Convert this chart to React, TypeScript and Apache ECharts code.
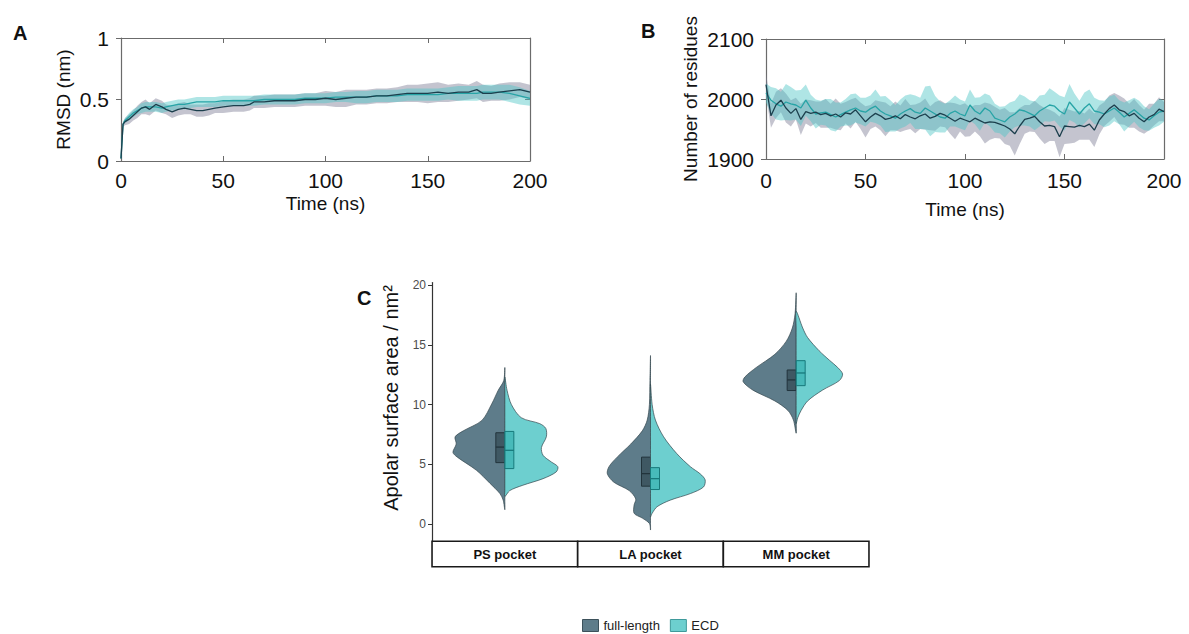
import React, { useEffect, useRef } from "react";
import * as echarts from "echarts";

const FONT = "'Liberation Sans', Arial, Helvetica, sans-serif";

// ---- Panel A: RMSD (nm) over simulation time (ns) ----
const timeA = [
  0, 1, 2, 4, 6, 8, 10, 12, 14, 17, 20, 22, 25, 28, 31, 34, 37, 40, 43, 46, 50, 55, 60, 63, 65, 70,
  75, 80, 85, 90, 95, 100, 105, 110, 115, 120, 125, 130, 135, 140, 145, 150, 155, 160, 165, 170,
  174, 177, 181, 185, 190, 195, 200,
];
const rmsdFull = [
  0.02, 0.3, 0.32, 0.34, 0.37, 0.4, 0.43, 0.44, 0.42, 0.46, 0.44, 0.42, 0.4, 0.42, 0.43, 0.42,
  0.41, 0.41, 0.42, 0.43, 0.44, 0.45, 0.45, 0.46, 0.48, 0.48, 0.49, 0.49, 0.49, 0.5, 0.5, 0.51,
  0.5, 0.51, 0.52, 0.52, 0.53, 0.53, 0.54, 0.55, 0.55, 0.55, 0.56, 0.55, 0.56, 0.56, 0.58, 0.55,
  0.55, 0.56, 0.57, 0.58, 0.56,
];
const rmsdFullSd = [
  0.01, 0.02, 0.03, 0.04, 0.04, 0.05, 0.05, 0.06, 0.05, 0.05, 0.05, 0.04, 0.05, 0.05, 0.05, 0.04,
  0.05, 0.05, 0.05, 0.04, 0.05, 0.05, 0.05, 0.05, 0.05, 0.05, 0.05, 0.05, 0.05, 0.05, 0.05, 0.06,
  0.06, 0.07, 0.06, 0.06, 0.06, 0.06, 0.06, 0.07, 0.07, 0.08, 0.08, 0.07, 0.07, 0.06, 0.07, 0.07,
  0.06, 0.07, 0.07, 0.06, 0.06,
];
const rmsdEcd = [
  0.02, 0.3, 0.33, 0.36, 0.39, 0.41, 0.43, 0.44, 0.44, 0.44, 0.43, 0.44, 0.45, 0.46, 0.46, 0.47,
  0.48, 0.48, 0.48, 0.48, 0.49, 0.49, 0.49, 0.49, 0.49, 0.5, 0.5, 0.5, 0.5, 0.51, 0.51, 0.51,
  0.52, 0.52, 0.52, 0.52, 0.53, 0.53, 0.53, 0.54, 0.54, 0.54, 0.54, 0.55, 0.55, 0.55, 0.55, 0.56,
  0.56, 0.56, 0.55, 0.53, 0.51,
];
const rmsdEcdSd = [
  0.01, 0.02, 0.02, 0.03, 0.03, 0.03, 0.04, 0.04, 0.04, 0.04, 0.04, 0.04, 0.04, 0.04, 0.04, 0.04,
  0.04, 0.04, 0.04, 0.04, 0.04, 0.04, 0.04, 0.04, 0.04, 0.04, 0.04, 0.04, 0.04, 0.04, 0.04, 0.04,
  0.04, 0.04, 0.05, 0.05, 0.05, 0.05, 0.05, 0.05, 0.05, 0.05, 0.05, 0.05, 0.06, 0.06, 0.06, 0.06,
  0.06, 0.06, 0.07, 0.07, 0.06,
];

// ---- Panel B: number of residues, sampled every 2.5 ns ----
const stepB = 2.5;
const residuesFull = [
  2024, 1972, 1990, 1998, 1985, 1976, 1984, 1966, 1979, 1976,
  1978, 1974, 1976, 1972, 1975, 1970, 1977, 1975, 1982, 1972,
  1962, 1970, 1976, 1972, 1966, 1968, 1972, 1967, 1974, 1970,
  1967, 1972, 1975, 1968, 1971, 1976, 1973, 1968, 1963, 1968,
  1965, 1962, 1968, 1964, 1960, 1962, 1961, 1958, 1955, 1950,
  1942, 1955, 1966, 1968, 1971, 1962, 1955, 1956, 1954, 1937,
  1955, 1954, 1953, 1956, 1954, 1958, 1948, 1965, 1975, 1984,
  1990, 1982, 1979, 1972, 1976, 1968, 1962, 1970, 1974, 1983,
  1979,
];
const residuesFullSd = [
  18, 20, 22, 20, 24, 22, 18, 26, 20, 22,
  18, 22, 24, 20, 26, 22, 18, 24, 20, 22,
  26, 20, 22, 24, 28, 20, 24, 22, 26, 20,
  24, 22, 26, 20, 24, 22, 20, 26, 30, 22,
  28, 24, 22, 26, 34, 30, 26, 24, 30, 28,
  36, 30, 24, 22, 26, 28, 30, 26, 24, 34,
  30, 28, 26, 24, 22, 26, 28, 24, 20, 22,
  20, 24, 22, 20, 24, 22, 20, 22, 18, 20,
  16,
];
const residuesEcd = [
  2010, 1998, 1992, 1988, 1995, 1992, 1990, 1985, 1998, 1985,
  1975, 1977, 1978, 1974, 1970, 1974, 1978, 1982, 1985, 1980,
  1978, 1984, 1988, 1980, 1975, 1972, 1968, 1975, 1980, 1984,
  1978, 1976, 1985, 1980, 1975, 1970, 1968, 1976, 1980, 1975,
  1972, 1990, 1980, 1975, 1985, 1980, 1968, 1965, 1962, 1970,
  1975, 1982, 1980, 1976, 1972, 1980, 1985, 1990, 1988, 1980,
  1975, 1995, 1985, 1975, 1985, 1992, 1980, 1978, 1975, 1980,
  1985, 1978, 1970, 1976, 1982, 1975, 1968, 1965, 1972, 1978,
  1980,
];
const residuesEcdSd = [
  16, 22, 26, 24, 30, 28, 24, 30, 26, 22,
  24, 20, 22, 26, 24, 20, 22, 26, 24, 22,
  24, 22, 28, 24, 30, 26, 22, 24, 26, 24,
  28, 26, 36, 42, 30, 26, 24, 22, 26, 24,
  24, 26, 22, 28, 24, 26, 24, 22, 26, 24,
  22, 26, 24, 22, 24, 26, 22, 28, 24, 26,
  28, 30, 24, 22, 26, 24, 22, 20, 22, 24,
  22, 20, 24, 22, 20, 22, 20, 18, 20, 22,
  18,
];

// ---- Panel C: apolar surface area per pocket ----
const pockets = ["PS pocket", "LA pocket", "MM pocket"];
const tickValuesC = [0, 5, 10, 15, 20];

// density profiles: [area (nm²), relative density]
const densityFull: number[][][] = [
  [[13.1, 0], [12.0, 0.02], [11.2, 0.12], [10.05, 0.24], [8.67, 0.42], [7.8, 0.76], [7.3, 0.91],
   [6.7, 0.89], [6.0, 0.95], [5.6, 0.87], [4.5, 0.52], [3.4, 0.27], [2.55, 0.09], [2.0, 0.03], [1.2, 0]],
  [[14.1, 0], [12.0, 0.01], [10.0, 0.02], [8.7, 0.06], [7.8, 0.15], [6.7, 0.36], [5.6, 0.61],
   [4.8, 0.76], [4.2, 0.79], [3.5, 0.67], [2.8, 0.39], [2.1, 0.27], [1.6, 0.3], [0.9, 0.3],
   [0.5, 0.15], [0.05, 0.02], [-0.5, 0]],
  [[19.35, 0], [17.6, 0.02], [16.4, 0.07], [15.3, 0.18], [14.2, 0.39], [13.1, 0.73], [12.3, 0.94],
   [11.9, 0.97], [11.2, 0.79], [10.3, 0.39], [9.5, 0.15], [8.7, 0.05], [7.6, 0]],
];
const densityEcd: number[][][] = [
  [[12.3, 0], [11.2, 0.04], [10.0, 0.12], [8.9, 0.3], [8.4, 0.64], [8.0, 0.75], [7.3, 0.76],
   [6.4, 0.67], [5.75, 0.7], [5.2, 0.85], [4.8, 0.97], [4.36, 0.94], [3.8, 0.7], [3.25, 0.33],
   [2.8, 0.09], [2.3, 0]],
  [[11.7, 0], [10.0, 0.03], [8.7, 0.09], [7.3, 0.24], [5.9, 0.48], [4.8, 0.73], [4.2, 0.91],
   [3.7, 1.0], [3.1, 0.97], [2.55, 0.73], [2.0, 0.36], [1.45, 0.12], [0.9, 0.03], [0.6, 0]],
  [[17.8, 0], [16.4, 0.12], [15.6, 0.21], [14.5, 0.42], [13.7, 0.61], [13.1, 0.76], [12.55, 0.85],
   [12.0, 0.79], [11.2, 0.48], [10.3, 0.21], [9.5, 0.09], [8.9, 0.03], [8.4, 0]],
];
// quartiles: [Q1, median, Q3]
const boxFull = [
  [5.14, 6.44, 7.64],
  [3.17, 4.22, 5.6],
  [11.17, 12.06, 12.89],
];
const boxEcd = [
  [4.64, 6.17, 7.75],
  [2.89, 3.8, 4.72],
  [11.58, 12.64, 13.67],
];

const FULL_LINE = "#1c3f4d";
const ECD_LINE = "#27a4a6";
const FULL_BAND = "rgba(125,125,148,0.45)";
const ECD_BAND = "rgba(78,198,198,0.45)";
const FULL_FILL = "#5e7c8a";
const ECD_FILL = "#6dcfcf";

function bandSeries(x: number[], mean: number[], sd: number[], color: string, axis: number) {
  return {
    type: "custom",
    xAxisIndex: axis * 2,
    yAxisIndex: axis * 2,
    silent: true,
    data: [[x[0], mean[0]]],
    renderItem: (params: any, api: any) => {
      const upper = x.map((t, i) => api.coord([t, mean[i] + sd[i]]));
      const lower = x.map((t, i) => api.coord([t, mean[i] - sd[i]])).reverse();
      const cs = params.coordSys;
      return {
        type: "polygon",
        shape: { points: upper.concat(lower) },
        style: { fill: color },
        clipPath: { type: "rect", shape: { x: cs.x, y: cs.y, width: cs.width, height: cs.height } },
      };
    },
  };
}

function lineSeries(x: number[], y: number[], color: string, axis: number) {
  return {
    type: "line",
    xAxisIndex: axis * 2,
    yAxisIndex: axis * 2,
    data: x.map((t, i) => [t, y[i]]),
    showSymbol: false,
    silent: true,
    lineStyle: { color, width: 1.3 },
    itemStyle: { color },
  };
}

function violinSeries(
  name: string,
  profiles: number[][][],
  boxes: number[][],
  side: number,
  fill: string,
  boxFill: string,
  boxStroke: string
) {
  return {
    type: "custom",
    name,
    xAxisIndex: 4,
    yAxisIndex: 4,
    silent: true,
    itemStyle: { color: fill },
    data: boxes.map((b, i) => [i, b[1]]),
    renderItem: (params: any, api: any) => {
      const i = params.dataIndex;
      const cx = api.coord([i, 0])[0];
      const half = api.size([1, 0])[0] * 0.375;
      const prof = profiles[i];
      const edge = prof.map(([v, d]) => [cx + side * d * half, api.coord([i, v])[1]]);
      const spine = prof
        .slice()
        .reverse()
        .slice(1, -1)
        .map(([v]) => [cx, api.coord([i, v])[1]]);
      const [q1, med, q3] = boxes[i];
      const yq1 = api.coord([i, q1])[1];
      const yq3 = api.coord([i, q3])[1];
      const ym = api.coord([i, med])[1];
      const bw = 9;
      const bx = side < 0 ? cx - bw : cx;
      return {
        type: "group",
        children: [
          {
            type: "polygon",
            shape: { points: edge.concat(spine), smooth: 0.3 },
            style: { fill, stroke: "#34464d", lineWidth: 0.7 },
          },
          {
            type: "rect",
            shape: { x: bx, y: yq3, width: bw, height: yq1 - yq3 },
            style: { fill: boxFill, stroke: boxStroke, lineWidth: 1 },
          },
          {
            type: "line",
            shape: { x1: bx, y1: ym, x2: bx + bw, y2: ym },
            style: { stroke: boxStroke, lineWidth: 1.3 },
          },
        ],
      };
    },
  };
}

const frameColor = "#6b6b6b";
const plainNumber = (v: number) => String(v);

function timeAxes(grid: number, nameGap: number, labelMargin: number) {
  const bottom = {
    type: "value",
    gridIndex: grid,
    min: 0,
    max: 200,
    interval: 50,
    position: "bottom",
    name: "Time (ns)",
    nameLocation: "middle",
    nameGap,
    nameTextStyle: { fontSize: 19, color: "#111", fontFamily: FONT },
    axisLine: { show: true, onZero: false, lineStyle: { color: frameColor, width: 1.2 } },
    axisTick: { show: true, inside: true, length: 5, lineStyle: { color: frameColor } },
    axisLabel: { fontSize: 21, color: "#111", margin: labelMargin, fontFamily: FONT, formatter: plainNumber },
    splitLine: { show: false },
  };
  const top = {
    type: "value",
    gridIndex: grid,
    min: 0,
    max: 200,
    interval: 50,
    position: "top",
    axisLine: { show: true, onZero: false, lineStyle: { color: frameColor, width: 1.2 } },
    axisTick: { show: true, inside: true, length: 5, lineStyle: { color: frameColor } },
    axisLabel: { show: false },
    splitLine: { show: false },
  };
  return [bottom, top];
}

function valueAxes(
  grid: number,
  min: number,
  max: number,
  interval: number,
  name: string,
  nameGap: number
) {
  const left = {
    type: "value",
    gridIndex: grid,
    min,
    max,
    interval,
    position: "left",
    name,
    nameLocation: "middle",
    nameGap,
    nameTextStyle: { fontSize: 19, color: "#111", fontFamily: FONT },
    axisLine: { show: true, onZero: false, lineStyle: { color: frameColor, width: 1.2 } },
    axisTick: { show: true, inside: false, length: 5, lineStyle: { color: frameColor } },
    axisLabel: { fontSize: 21, color: "#111", margin: 12, fontFamily: FONT, formatter: plainNumber },
    splitLine: { show: false },
  };
  const right = {
    type: "value",
    gridIndex: grid,
    min,
    max,
    interval,
    position: "right",
    axisLine: { show: true, onZero: false, lineStyle: { color: frameColor, width: 1.2 } },
    axisTick: { show: true, inside: true, length: 5, lineStyle: { color: frameColor } },
    axisLabel: { show: false },
    splitLine: { show: false },
  };
  return [left, right];
}

export default function App() {
  const ref = useRef<HTMLDivElement>(null);

  useEffect(() => {
    document.body.style.margin = "0";
    if (!ref.current) return;
    const chart = echarts.init(ref.current, null, { renderer: "svg" });

    const timeB = residuesFull.map((_, i) => i * stepB);

    const option: any = {
      animation: false,
      backgroundColor: "#ffffff",
      textStyle: { fontFamily: FONT },
      grid: [
        { left: 121, top: 38, width: 409, height: 123, outerBoundsMode: "none" },
        { left: 766, top: 39, width: 398, height: 120, outerBoundsMode: "none" },
        { left: 432, top: 282.6, width: 437, height: 259.4, outerBoundsMode: "none" },
      ],
      xAxis: [
        ...timeAxes(0, 33, 9),
        ...timeAxes(1, 41, 11),
        {
          type: "category",
          gridIndex: 2,
          data: pockets,
          axisLine: { show: false, onZero: false },
          axisTick: { show: false },
          splitLine: { show: false },
          axisLabel: {
            interval: 0,
            margin: 0,
            fontSize: 13,
            fontWeight: "bold",
            color: "#111",
            fontFamily: FONT,
            width: 144,
            height: 24,
            lineHeight: 24,
            align: "center",
            verticalAlign: "top",
            borderColor: "#1a1a1a",
            borderWidth: 1.6,
            backgroundColor: "#ffffff",
          },
        },
      ],
      yAxis: [
        ...valueAxes(0, 0, 1, 0.5, "RMSD (nm)", 48),
        ...valueAxes(1, 1900, 2100, 100, "Number of residues", 66),
        {
          type: "value",
          gridIndex: 2,
          min: -1.5,
          max: 20.2,
          axisLine: { show: true, onZero: false, lineStyle: { color: "#333", width: 1.2 } },
          axisTick: {
            show: true,
            length: 4,
            customValues: tickValuesC,
            lineStyle: { color: "#333" },
          },
          axisLabel: {
            fontSize: 12,
            color: "#4d4d4d",
            margin: 6,
            customValues: tickValuesC,
            fontFamily: FONT,
          },
          splitLine: { show: false },
        },
      ],
      legend: {
        data: [
          { name: "full-length", itemStyle: { color: FULL_FILL, borderColor: "#3c515b", borderWidth: 1 } },
          { name: "ECD", itemStyle: { color: ECD_FILL, borderColor: "#3f9a9b", borderWidth: 1 } },
        ],
        icon: "rect",
        left: 577,
        top: 614,
        itemWidth: 16,
        itemHeight: 12,
        itemGap: 10,
        selectedMode: false,
        textStyle: { fontSize: 13, color: "#222", fontFamily: FONT },
      },
      graphic: [
        { type: "text", x: 13, y: 23, style: { text: "A", fontSize: 20, fontWeight: "bold", fontFamily: FONT, fill: "#111" } },
        { type: "text", x: 641, y: 21, style: { text: "B", fontSize: 20, fontWeight: "bold", fontFamily: FONT, fill: "#111" } },
        { type: "text", x: 357, y: 288, style: { text: "C", fontSize: 20, fontWeight: "bold", fontFamily: FONT, fill: "#111" } },
        {
          type: "text",
          x: 391,
          y: 398,
          rotation: Math.PI / 2,
          style: {
            text: "Apolar surface area / nm²",
            fontSize: 20,
            fontFamily: FONT,
            fill: "#111",
            align: "center",
            verticalAlign: "middle",
          },
        },
      ],
      series: [
        bandSeries(timeA, rmsdFull, rmsdFullSd, FULL_BAND, 0),
        bandSeries(timeA, rmsdEcd, rmsdEcdSd, ECD_BAND, 0),
        lineSeries(timeA, rmsdEcd, ECD_LINE, 0),
        lineSeries(timeA, rmsdFull, FULL_LINE, 0),
        bandSeries(timeB, residuesFull, residuesFullSd, FULL_BAND, 1),
        bandSeries(timeB, residuesEcd, residuesEcdSd, ECD_BAND, 1),
        lineSeries(timeB, residuesEcd, ECD_LINE, 1),
        lineSeries(timeB, residuesFull, FULL_LINE, 1),
        violinSeries("full-length", densityFull, boxFull, -1, FULL_FILL, "rgba(38,58,68,0.55)", "#22343c"),
        violinSeries("ECD", densityEcd, boxEcd, 1, ECD_FILL, "rgba(40,170,170,0.55)", "#17797b"),
      ],
    };

    chart.setOption(option);
    return () => chart.dispose();
  }, []);

  return <div ref={ref} style={{ width: 1189, height: 634 }} />;
}
